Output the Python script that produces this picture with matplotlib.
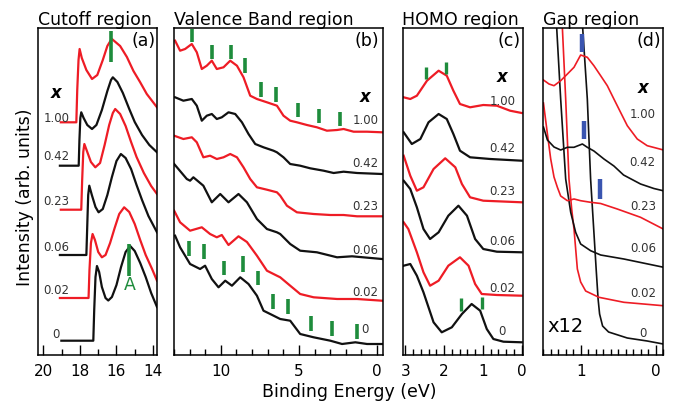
import matplotlib
matplotlib.use('Agg')
import matplotlib.pyplot as plt
from matplotlib.ticker import MultipleLocator

# x values (order: bottom curve to top curve)
x_labels = ['0', '0.02', '0.06', '0.23', '0.42', '1.00']
colors = ['#111111', '#ee1c25', '#111111', '#ee1c25', '#111111', '#ee1c25']

# ---- (a) cutoff region: binding energy (eV), intensity (arb.)
cut_E = [
    [19.02, 17.27, 17.22, 17.15, 17.07, 16.95, 16.80, 16.60, 16.45, 16.25, 16.00, 15.75, 15.50, 15.25, 15.00, 14.70, 14.40, 14.10, 13.78],
    [19.10, 17.53, 17.48, 17.40, 17.31, 17.18, 17.00, 16.80, 16.60, 16.35, 16.10, 15.85, 15.58, 15.30, 15.00, 14.70, 14.40, 14.05, 13.78],
    [19.10, 17.65, 17.60, 17.55, 17.49, 17.35, 17.15, 16.98, 16.75, 16.50, 16.25, 16.00, 15.76, 15.50, 15.20, 14.90, 14.60, 14.25, 13.78],
    [19.05, 17.93, 17.88, 17.82, 17.76, 17.60, 17.40, 17.16, 16.90, 16.65, 16.40, 16.20, 16.07, 15.80, 15.50, 15.20, 14.90, 14.50, 14.10, 13.78],
    [19.10, 18.07, 18.03, 17.98, 17.93, 17.80, 17.60, 17.34, 17.10, 16.80, 16.50, 16.30, 16.20, 15.95, 15.65, 15.30, 15.00, 14.60, 14.20, 13.78],
    [19.05, 18.20, 18.15, 18.08, 18.02, 17.90, 17.65, 17.34, 17.05, 16.75, 16.50, 16.30, 16.25, 15.80, 15.43, 15.07, 14.71, 14.34, 13.78],
]
cut_I = [
    [14.3, 14.3, 45, 78, 89, 83, 68, 57, 54.5, 58, 70, 88, 103, 109, 104, 92, 78, 62, 48],
    [57, 57, 85, 112, 121, 115, 103, 97.7, 100, 112, 127, 141, 147.7, 143, 131, 115, 100, 86, 74.3],
    [100, 100, 130, 160, 169.3, 160, 148, 142.7, 146, 160, 178, 194, 201, 197, 186, 170, 155, 139, 122.7],
    [145.3, 145.3, 175, 203, 211, 203, 193, 187.7, 192, 210, 230, 242, 246, 241, 229, 213, 198, 182, 169, 161],
    [189.3, 189.3, 215, 237, 242.7, 237, 230, 226, 230, 245, 264, 275, 277.7, 273, 262, 246, 233, 220, 210, 202.7],
    [232.7, 232.7, 265, 295, 306, 297, 285, 276, 280, 295, 309, 315, 316, 309, 298, 284, 273, 261, 247.7],
]
cut_marks_E = [16.29, 15.29]
cut_marks_lo = [292.7, 79.3]
cut_marks_hi = [324.3, 111]

# ---- (b) valence band region
vb_E = [
    [12.93, 12.61, 11.97, 11.33, 11.01, 10.58, 10.15, 9.72, 9.29, 8.76, 8.23, 7.69, 7.27, 6.84, 6.20, 5.56, 4.92, 4.06, 2.99, 2.24, 1.39, 0.64, -0.32],
    [12.99, 12.61, 11.97, 11.22, 10.69, 10.26, 9.94, 9.51, 8.87, 8.33, 7.69, 7.05, 6.41, 6.20, 5.56, 4.92, 4.06, 2.56, 1.28, -0.32],
    [12.99, 12.18, 11.97, 11.76, 11.12, 10.58, 10.04, 9.51, 8.87, 8.33, 7.69, 7.05, 6.41, 6.20, 5.56, 4.92, 3.85, 2.56, 1.60, -0.32],
    [12.99, 12.40, 11.86, 11.54, 11.12, 10.69, 10.26, 9.83, 9.40, 8.97, 8.55, 8.12, 7.69, 7.05, 6.41, 6.20, 5.77, 5.13, 4.06, 2.99, 2.14, 1.28, -0.32],
    [12.93, 12.40, 11.86, 11.54, 11.22, 10.90, 10.58, 10.26, 9.94, 9.51, 9.08, 8.65, 8.23, 7.80, 7.27, 6.63, 6.41, 5.99, 5.56, 4.92, 4.28, 3.42, 2.78, 2.14, 1.28, -0.32],
    [12.93, 12.61, 12.29, 11.86, 11.54, 11.22, 10.90, 10.58, 10.26, 9.83, 9.40, 8.97, 8.55, 8.12, 7.69, 7.05, 6.41, 5.99, 5.56, 5.13, 4.49, 3.85, 3.21, 2.56, 2.14, 1.50, 0.64, -0.32],
]
vb_I = [
    [119.3, 107.7, 91, 86, 89.3, 76, 67.7, 74.3, 69.3, 77.7, 71, 59.3, 44.3, 41, 36, 34.3, 21, 17.7, 14.3, 11, 12.7, 11, 11],
    [144.3, 132.7, 124.3, 127.7, 121, 117.7, 120, 110, 118.7, 113, 99.3, 84.3, 79.3, 77.7, 69.3, 61, 57.7, 56, 56, 54.3],
    [191, 176, 174.3, 177.7, 169.3, 152.7, 161, 152.7, 161, 152.7, 136, 126, 122.7, 121, 111, 104.3, 102.7, 97.7, 98.7, 96],
    [219.3, 216, 217.7, 212.7, 197.7, 199.3, 196, 197.7, 201, 197.7, 187.7, 176, 167.7, 165.3, 162.7, 159.3, 149.3, 142.7, 141, 140, 140, 138.7, 138.7],
    [257.7, 254.3, 256, 249.3, 234.3, 239.3, 241, 236, 237.7, 242.7, 241, 232.7, 221, 211, 207.7, 204.3, 202.7, 197.7, 191, 189.3, 186.7, 184.3, 182, 183.3, 182, 181],
    [314.3, 304.3, 306, 311, 302.7, 286, 289.3, 294.3, 286, 287.7, 294.3, 289.3, 277.7, 259.3, 256, 252.7, 249.3, 239.3, 234.3, 232.7, 230, 227.7, 224.3, 225, 226, 223.3, 223.3, 222.7],
]
vb_top_E = [11.86, 10.58, 9.38, 8.43, 7.44, 6.47, 5.08, 3.70, 2.34]
vb_top_lo = [312.7, 296, 296, 282, 257.7, 253.3, 237.7, 232, 229.3]
vb_top_hi = [326, 310.3, 310.3, 296.7, 272.7, 267.7, 251.7, 246, 243.3]
vb_bot_E = [12.03, 11.05, 9.77, 8.55, 7.63, 6.63, 5.67, 4.23, 2.88, 1.28]
vb_bot_lo = [99.3, 96, 80, 83.3, 70, 46, 41, 24.3, 19.3, 16]
vb_bot_hi = [114.3, 111, 94.3, 98.7, 84.3, 61, 56, 39.3, 34.3, 31]

# ---- (c) HOMO region
homo_E = [
    [3.04, 2.87, 2.70, 2.53, 2.27, 2.06, 1.80, 1.54, 1.29, 1.07, 0.90, 0.73, 0.47, 0.0],
    [3.04, 2.92, 2.70, 2.53, 2.36, 2.14, 1.89, 1.59, 1.37, 1.20, 1.03, 0.64, 0.0],
    [3.04, 2.87, 2.70, 2.53, 2.36, 2.14, 1.89, 1.63, 1.41, 1.20, 0.99, 0.64, 0.0],
    [3.04, 2.87, 2.70, 2.53, 2.27, 1.97, 1.71, 1.54, 1.33, 0.99, 0.0],
    [3.04, 2.83, 2.61, 2.40, 2.14, 1.93, 1.76, 1.59, 1.33, 0.81, 0.0],
    [3.04, 2.87, 2.70, 2.44, 2.14, 1.93, 1.76, 1.59, 1.33, 0.99, 0.64, 0.30, 0.0],
]
homo_I = [
    [89.3, 91, 79.3, 62.7, 32.7, 22.7, 27.7, 41, 51, 44.3, 26, 16, 13.3, 12.7],
    [132.7, 126, 102.7, 82.7, 69.3, 74.3, 89.3, 97.7, 89.3, 71, 61, 60, 59.3],
    [174.3, 166, 147.7, 126, 116, 122.7, 139.3, 149.3, 139.3, 116, 106, 103.3, 102.7],
    [199.3, 179.3, 164.3, 167.7, 186, 196.7, 187.7, 171, 157.7, 154.3, 152.7],
    [222.7, 211, 216, 232.7, 241, 236, 221, 204.3, 197.7, 196, 194.3],
    [257.7, 256, 259.3, 274.3, 284.3, 279.3, 264.3, 251, 247.7, 250, 249.3, 244.3, 242],
]
homo_marks_E = [2.46, 1.95, 1.56, 1.03]
homo_marks_lo = [276, 281, 44.3, 46]
homo_marks_hi = [287.7, 292.7, 56.7, 57.7]

# ---- (d) gap region (x12)
gap_E = [
    [0.99, 0.973, 0.911, 0.867, 0.823, 0.793, 0.767, 0.747, 0.707, 0.627, 0.377, 0.111, -0.103],
    [1.26, 1.244, 1.2, 1.156, 1.12, 1.089, 1.044, 1.0, 0.933, 0.756, 0.423, -0.1],
    [1.34, 1.32, 1.267, 1.20, 1.133, 1.067, 1.0, 0.867, 0.733, 0.423, -0.11],
    [1.497, 1.444, 1.4, 1.356, 1.311, 1.267, 1.177, 1.089, 1.0, 0.867, 0.733, 0.511, 0.2, -0.103],
    [1.497, 1.444, 1.356, 1.267, 1.177, 1.089, 0.977, 0.911, 0.823, 0.689, 0.556, 0.427, 0.2, 0.022, -0.1],
    [1.497, 1.423, 1.356, 1.267, 1.177, 1.089, 1.0, 0.911, 0.823, 0.733, 0.644, 0.556, 0.467, 0.377, 0.244, 0.111, -0.107],
]
gap_I = [
    [347, 327, 256, 176, 122.7, 86, 56, 41, 29, 23, 17, 14, 11],
    [345, 327, 256, 176, 146, 126, 86, 73, 64, 57.7, 52.7, 49.3],
    [345, 327, 256, 176, 142.7, 122.7, 111, 104.3, 100, 96, 87.7],
    [252, 221, 196, 178, 167.7, 159, 154.3, 156, 154.3, 152.7, 151.5, 146, 137.7, 126],
    [228, 215, 208, 205, 207.7, 207.7, 211, 207.7, 204, 196, 189, 180, 171, 166.5, 164.3],
    [275, 271, 269.3, 274.3, 281, 287.7, 300, 297.7, 289.3, 279.3, 269.3, 256, 242.7, 229.3, 216, 209.3, 205],
]
gap_marks_E = [0.987, 0.956, 0.747]
gap_marks_lo = [302.7, 216, 156]
gap_marks_hi = [321, 234.3, 176]

green = '#1e8c3c'
blue = '#3a55b0'
W, H = 674, 406

fig = plt.figure(figsize=(6.74, 4.06), dpi=100)

def make_ax(left, right):
    ax = fig.add_axes([left / W, 50 / H, (right - left) / W, 327 / H])
    ax.set_ylim(0, 327)
    ax.set_yticks([])
    for s in ax.spines.values():
        s.set_linewidth(1.1)
    ax.tick_params(axis='x', which='both', direction='in', top=False, labelsize=11, pad=6)
    ax.tick_params(axis='x', which='major', length=7, width=1)
    ax.tick_params(axis='x', which='minor', length=4, width=1)
    return ax

panels = [
    (38, 157, (20.3, 13.78), 2, 1, 'Cutoff region', '(a)', cut_E, cut_I, 1.6),
    (174, 382.5, (13.0, -0.35), 5, 1, 'Valence Band region', '(b)', vb_E, vb_I, 1.6),
    (402.5, 522.5, (3.07, -0.02), 1, 0.2, 'HOMO region', '(c)', homo_E, homo_I, 1.6),
    (543, 663, (1.503, -0.1), 1, 0.1, 'Gap region', '(d)', gap_E, gap_I, 1.2),
]
axes = []
for left, right, xl, maj, mnr, title, tag, Es, Is, lw in panels:
    ax = make_ax(left, right)
    ax.set_xlim(*xl)
    ax.xaxis.set_major_locator(MultipleLocator(maj))
    ax.xaxis.set_minor_locator(MultipleLocator(mnr))
    for E, I, c in zip(Es, Is, colors):
        ax.plot(E, I, color=c, lw=lw, solid_joinstyle='round')
    ax.set_title(title, loc='left', fontsize=12.5, pad=2)
    ax.text(0.985, 0.99, tag, transform=ax.transAxes, ha='right', va='top', fontsize=12.5)
    axes.append(ax)

ax_a, ax_b, ax_c, ax_d = axes

# markers
ax_a.vlines(cut_marks_E, cut_marks_lo, cut_marks_hi, color=green, lw=2.6)
ax_a.text(15.25, 80, 'A', color=green, fontsize=12.5, ha='center', va='top')
ax_b.vlines(vb_top_E, vb_top_lo, vb_top_hi, color=green, lw=2.6)
ax_b.vlines(vb_bot_E, vb_bot_lo, vb_bot_hi, color=green, lw=2.6)
ax_c.vlines(homo_marks_E, homo_marks_lo, homo_marks_hi, color=green, lw=2.4)
ax_d.vlines(gap_marks_E, gap_marks_lo, gap_marks_hi, color=blue, lw=3.2)
ax_d.text(1.2, 20, 'x12', fontsize=14, ha='center', va='bottom')

# x value labels
label_pos = [
    (ax_a, 19.29, [21, 66, 108, 154, 199, 238], 262.7),
    (ax_b, 0.75, [26, 63.7, 105.3, 149.3, 192, 236], 259.3),
    (ax_c, 0.5, [24.3, 67.7, 114.3, 164.3, 207.7, 254.3], 279.3),
    (ax_d, 0.17, [22.7, 62.7, 107.7, 149.3, 193.3, 241], 267.7),
]
for ax, xe, ys, yx in label_pos:
    for lab, y in zip(x_labels, ys):
        ax.text(xe, y, lab, fontsize=8.5, color='#333333', ha='center', va='center')
    ax.text(xe, yx, 'x', fontsize=12, fontweight='bold', fontstyle='italic', ha='center', va='center')

fig.text(25 / W, 1 - 197 / H, 'Intensity (arb. units)', rotation=90, fontsize=12.5, ha='center', va='center')
fig.text(349 / W, 1 - 392 / H, 'Binding Energy (eV)', fontsize=12.5, ha='center', va='center')

fig.savefig('out.png', dpi=100)
